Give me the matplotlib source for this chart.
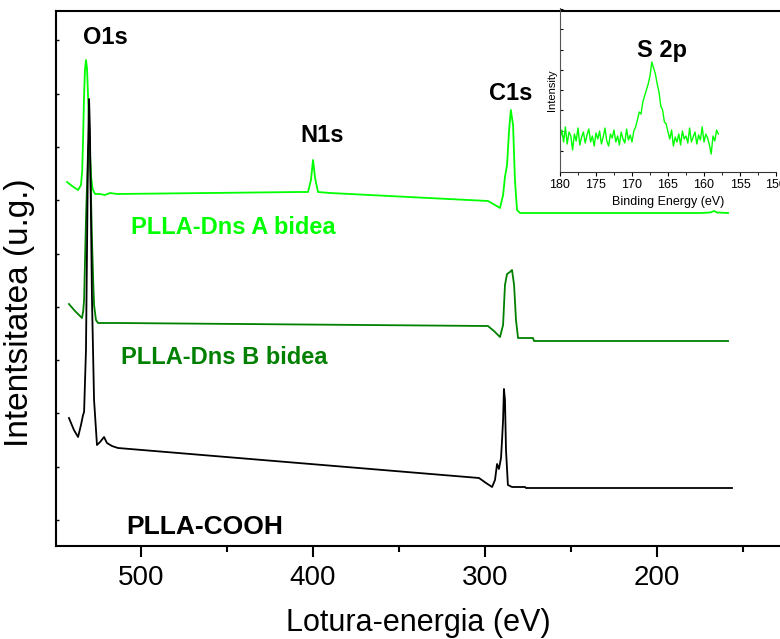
import numpy as np
import matplotlib
matplotlib.use('Agg')
import matplotlib.pyplot as plt
from matplotlib.ticker import MultipleLocator

plt.rcParams['font.family'] = ['Liberation Sans', 'DejaVu Sans']

# survey spectra (binding energy, intensity a.u.)
energy_a = [543.0, 540.1, 536.6, 534.9, 534.2, 533.7, 533.2, 532.6, 532.0, 531.4, 530.8, 530.2,
            529.6, 529.1, 528.4, 527.9, 526.7, 523.8, 521.0, 518.0, 514.0, 407.6, 402.9, 401.2,
            400.0, 398.8, 397.1, 390.1, 298.3, 294.2, 291.3, 289.5, 288.4, 287.2, 286.0, 285.0,
            283.7, 282.6, 281.4, 279.7, 175.0, 169.0, 166.9, 165.0, 158.7]
int_a = [364, 360, 356, 361, 375, 406, 445, 476, 486, 478, 450, 416,
         390, 371, 360, 356, 352, 352, 351, 353, 352, 354, 354, 366,
         386, 368, 354, 353, 345, 341, 338, 351, 369, 381, 416, 436,
         421, 366, 336, 333, 333, 333.5, 335, 333.5, 333]

energy_b = [541.9, 538.4, 534.3, 533.6, 533.1, 532.0, 530.8, 530.2, 529.7, 528.5, 527.8, 527.3,
            526.2, 525.0, 514.0, 298.3, 294.8, 291.3, 289.5, 288.4, 287.2, 285.5, 284.3, 283.1,
            282.0, 280.8, 272.1, 271.5, 158.7]
int_b = [242, 235, 228, 235, 246, 326, 396, 405, 396, 306, 265, 241,
         226, 223, 223, 220, 215, 209, 221, 261, 272, 274, 276, 261,
         226, 208, 208, 205, 205]

energy_c = [541.9, 539.0, 536.6, 534.9, 533.7, 533.1, 532.0, 530.8, 530.2, 529.7, 528.5, 527.3,
            525.6, 523.8, 521.5, 519.8, 516.9, 513.4, 303.5, 299.4, 295.9, 294.2, 293.0, 291.9,
            290.7, 290.1, 289.5, 289.0, 288.4, 287.8, 286.7, 284.3, 276.7, 276.2, 156.4]
int_c = [128, 116, 109, 121, 131, 134, 196, 396, 447, 416, 246, 146,
         101, 104, 109, 103, 100, 98, 68, 63, 59, 66, 82, 77,
         88, 106, 126, 157, 146, 96, 61, 59, 59, 58, 58]

# S 2p high resolution region
s2p_int = [33, 42, 30, 45, 28, 40, 36, 22, 38, 31, 44, 27, 35, 40, 29, 37, 43, 30, 36, 26,
           39, 33, 41, 28, 35, 44, 31, 26, 38, 34, 42, 30, 36, 27, 40, 33, 29, 43, 32, 37,
           30, 41, 45, 52, 60, 58, 70, 76, 82, 88, 96, 110, 104, 98, 88, 80, 66, 62, 50, 48,
           40, 33, 42, 26, 35, 30, 38, 27, 41, 33, 36, 29, 44, 30, 35, 40, 28, 37, 32, 45,
           30, 38, 34, 27, 18, 36, 31, 42, 38]
s2p_energy = np.linspace(180, 158, len(s2p_int))

c_light = '#00ff00'
c_dark = '#008000'

fig = plt.figure(figsize=(7.8, 6.39), dpi=100)
ax = fig.add_axes([55.7 / 780, 93 / 639, 1 - 55.7 / 780, 535 / 639])

ax.plot(energy_a, int_a, color=c_light, lw=1.3)
ax.plot(energy_b, int_b, color=c_dark, lw=1.3)
ax.plot(energy_c, int_c, color='black', lw=1.3)

ax.set_xlim(549.6, 128.5)
ax.set_ylim(0, 535)
ax.spines['right'].set_visible(False)
for s in ax.spines.values():
    s.set_linewidth(1.5)
ax.xaxis.set_major_locator(MultipleLocator(100))
ax.xaxis.set_minor_locator(MultipleLocator(50))
ax.tick_params(axis='x', which='major', length=8, width=1.5, labelsize=20, pad=6)
ax.tick_params(axis='x', which='minor', length=4.5, width=1.5)
ax.set_yticks(np.arange(26, 535, 53.3))
ax.tick_params(axis='y', direction='in', length=2.5, width=1, labelleft=False)
ax.set_xlabel('Lotura-energia (eV)', fontsize=22, labelpad=12)
ax.set_ylabel('Intentsitatea (u.g.)', fontsize=24)
ax.yaxis.set_label_coords(-0.028, 0.4355)

bold = dict(fontsize=17, fontweight='bold', ha='center', va='center')
ax.text(520.9, 508, 'O1s', color='black', **bold)
ax.text(394.8, 410, 'N1s', color='black', **bold)
ax.text(284.9, 453, 'C1s', color='black', **bold)
ax.text(446.5, 318, 'PLLA-Dns A bidea', color=c_light, **bold)
ax.text(451.7, 189, 'PLLA-Dns B bidea', color=c_dark, **bold)
ax.text(462.8, 19, 'PLLA-COOH', color='black', **{**bold, 'fontsize': 19})

# inset
ins = fig.add_axes([560 / 780, 467 / 639, 216 / 780, 164 / 639])
ins.set_facecolor('none')
ins.plot(s2p_energy, s2p_int, color=c_light, lw=1)
ins.set_xlim(180, 150)
ins.set_ylim(0, 164)
ins.spines['top'].set_visible(False)
ins.spines['right'].set_visible(False)
ins.spines['left'].set_color('#555555')
ins.spines['bottom'].set_color('#333333')
ins.xaxis.set_major_locator(MultipleLocator(5))
ins.xaxis.set_minor_locator(MultipleLocator(2.5))
ins.tick_params(axis='x', which='major', length=3, labelsize=9, pad=2)
ins.tick_params(axis='x', which='minor', length=2)
ins.set_yticks(np.arange(21, 164, 20.3))
ins.tick_params(axis='y', direction='in', length=2, labelleft=False)
ins.set_xlabel('Binding Energy (eV)', fontsize=9, labelpad=4)
ins.set_ylabel('Intensity', fontsize=8, labelpad=2)
ins.text(165.8, 122, 'S 2p', color='black', **bold)

fig.savefig('out.png', dpi=100)
